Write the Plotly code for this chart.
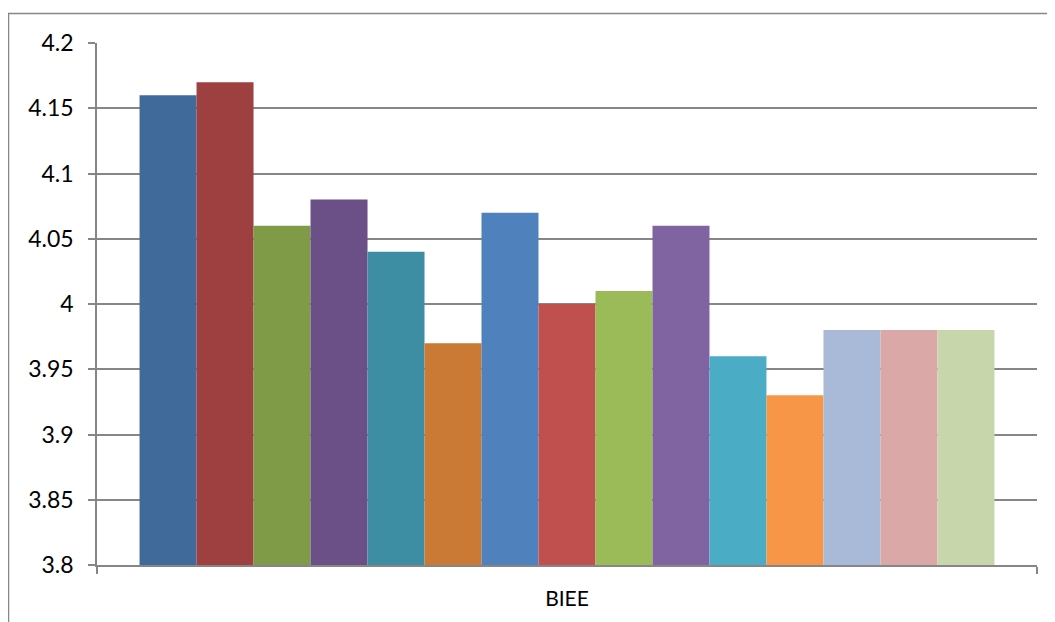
import plotly.graph_objects as go

category = ["BIEE"]
series_names = [f"Series {i}" for i in range(1, 16)]
values = [4.16, 4.17, 4.06, 4.08, 4.04, 3.97, 4.07, 4.00, 4.01, 4.06, 3.96, 3.93, 3.98, 3.98, 3.98]
colors = ["#406A9A", "#9D403F", "#7F9B48", "#6A5087", "#3D8DA3", "#CB7A36",
          "#4F81BD", "#C0504D", "#9BBB59", "#8064A2", "#4BACC6", "#F79646",
          "#A9BAD8", "#D9A8A7", "#C7D6AB"]
tick_vals = [3.8, 3.85, 3.9, 3.95, 4.0, 4.05, 4.1, 4.15, 4.2]
tick_text = ["3.8", "3.85", "3.9", "3.95", "4", "4.05", "4.1", "4.15", "4.2"]

fig = go.Figure()
for name, v, c in zip(series_names, values, colors):
    fig.add_trace(go.Bar(x=category, y=[v], name=name, marker=dict(color=c, line=dict(width=0))))

# page body has an 8px margin; compensate so the plot lands where the reference has it
OFF = 8
W, H = 1055 - OFF, 622 - OFF
L, R, T, B = 97 - OFF, 18, 43 - OFF, 57
pw, ph = W - L - R, H - T - B

def px_x(x):
    return (x - OFF - L) / pw

def px_y(y):
    return (H - B - (y - OFF)) / ph

fig.update_layout(
    width=W, height=H,
    margin=dict(l=L, r=R, t=T, b=B, autoexpand=False),
    paper_bgcolor="white", plot_bgcolor="white",
    barmode="group", bargap=0.0905, bargroupgap=0,
    showlegend=False,
    font=dict(family="Lato, Open Sans, sans-serif", color="#000000", size=20),
    xaxis=dict(
        showline=True, linecolor="#868686", linewidth=1.5,
        ticks="outside", tickson="boundaries", ticklen=7, tickcolor="#868686", tickwidth=1.5,
        tickfont=dict(size=21), showgrid=False, ticklabelstandoff=14, automargin=False,
    ),
    yaxis=dict(
        range=[3.8, 4.2], tickvals=tick_vals, ticktext=tick_text,
        showline=True, linecolor="#868686", linewidth=1.5,
        ticks="outside", ticklen=7, tickcolor="#868686", tickwidth=1.5,
        showgrid=True, gridcolor="#868686", gridwidth=1.5,
        tickfont=dict(size=23), zeroline=False, ticklabelstandoff=10, automargin=False,
    ),
    shapes=[dict(
        type="rect", xref="paper", yref="paper",
        x0=px_x(8.5), x1=px_x(1100), y0=px_y(700), y1=px_y(13.5),
        line=dict(color="#868686", width=1.5), fillcolor="rgba(0,0,0,0)", layer="below",
    )],
)

fig.write_html("out.html")
